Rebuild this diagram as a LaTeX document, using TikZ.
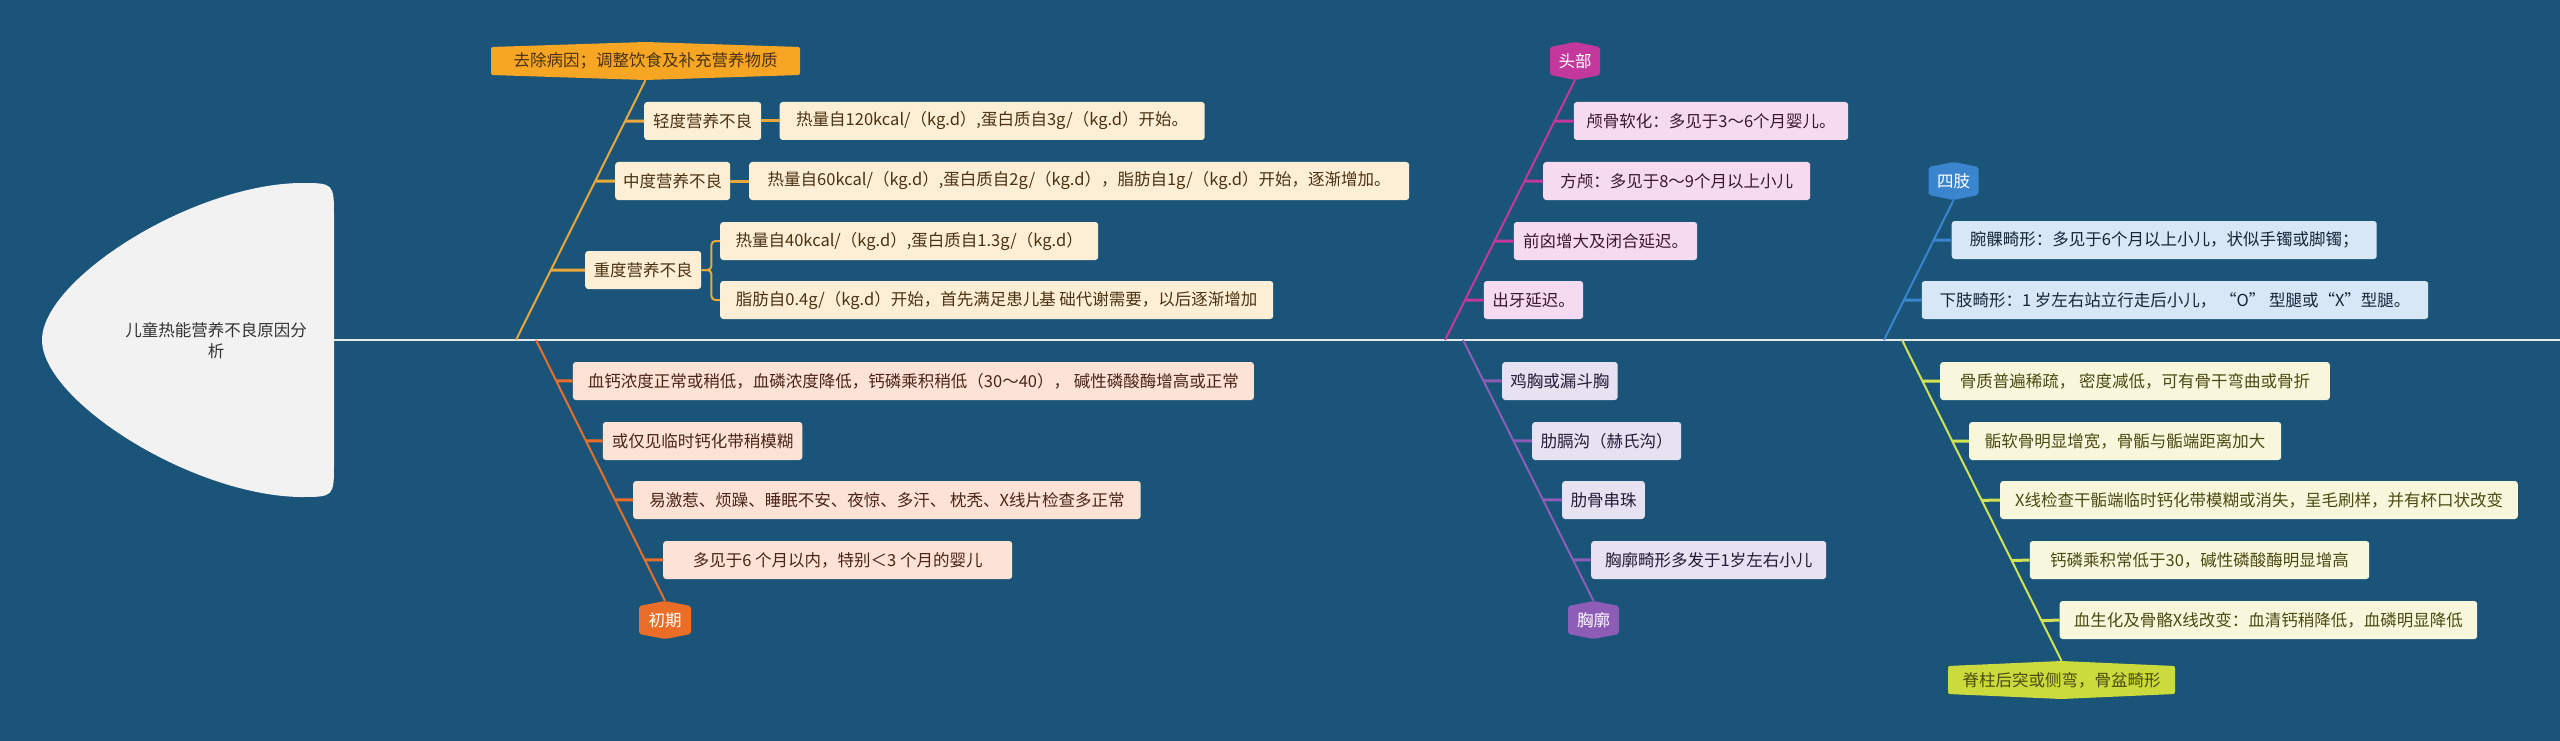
\documentclass[tikz,border=0pt]{standalone}
\usepackage{fontspec}
\setmainfont{Noto Sans CJK SC}
\usepackage{tikz}
\usetikzlibrary{calc}
\definecolor{sea}{HTML}{1A5479}
\definecolor{spinecol}{HTML}{E4E9EE}
\definecolor{headfill}{HTML}{F2F2F2}
\definecolor{gold}{HTML}{EBA83A}
\definecolor{goldbox}{HTML}{FDEFD6}
\definecolor{goldtxt}{HTML}{4A3212}
\definecolor{goldlbl}{HTML}{F6A623}
\definecolor{rust}{HTML}{EA6E28}
\definecolor{rustbox}{HTML}{FDE3D5}
\definecolor{rusttxt}{HTML}{4A2418}
\definecolor{plum}{HTML}{C2389C}
\definecolor{plumbox}{HTML}{F6DAEF}
\definecolor{plumtxt}{HTML}{3A1830}
\definecolor{lilac}{HTML}{8C5CB6}
\definecolor{lilacbox}{HTML}{E7E2F1}
\definecolor{lilactxt}{HTML}{221A36}
\definecolor{sky}{HTML}{3A85CE}
\definecolor{skybox}{HTML}{D7E7F5}
\definecolor{skytxt}{HTML}{13263A}
\definecolor{lime}{HTML}{D2E253}
\definecolor{limebox}{HTML}{F8F7DC}
\definecolor{limetxt}{HTML}{4B4A12}
\definecolor{limelbl}{HTML}{CBDB3C}
\newcommand\leaffont{\fontsize{16.5}{21}\selectfont}
\tikzset{
  leaf/.style={rounded corners=3pt,minimum height=38,inner xsep=8,inner ysep=0,anchor=west},
  bone/.style={line width=2},
  twig/.style={line width=3}
}

\begin{document}
\begin{tikzpicture}[x=1pt,y=-1pt,font=\leaffont]
  \fill[sea] (0,0) rectangle (2560,741);
  \useasboundingbox (0,0) rectangle (2560,741);
  \fill[headfill] (42,340) .. controls (42,280) and (190,185) .. (300,183)
    .. controls (334,183) and (334,183) .. (334,217) -- (334,463)
    .. controls (334,497) and (334,497) .. (300,497)
    .. controls (190,495) and (42,400) .. (42,340);
  \node[align=center,text=black!80] (head) at (216,341) {儿童热能营养不良原因分\\析};
  \coordinate (neck) at (334,340);
  \coordinate (tail) at (2560,340);
  \draw[spinecol,line width=2.5] (neck) -- (tail);
  \foreach \nm/\x/\y/\w/\fc/\tc/\txt in {
    cure/645.5/61/309/goldlbl/goldtxt/去除病因；调整饮食及补充营养物质,
    skull/1575/61/50/plum/white/头部,
    limb/1953.5/181/50/sky/white/四肢,
    early/665/620/52/rust/white/初期,
    chest/1593.5/620/51/lilac/white/胸廓,
    spinal/2061.5/680/227/limelbl/limetxt/脊柱后突或侧弯，骨盆畸形}{
    \fill[\fc,rounded corners=2pt] (\x-\w/2,\y-14) -- (\x,\y-19) -- (\x+\w/2,\y-14)
      -- (\x+\w/2,\y+14) -- (\x,\y+19) -- (\x-\w/2,\y+14) -- cycle;
    \node[text=\tc,minimum width=\w,minimum height=38,inner sep=0] (\nm) at (\x,\y) {\txt};
  }
  \coordinate (s1) at (516,340);
  \coordinate (s2) at (536,340);
  \coordinate (s3) at (1445,340);
  \coordinate (s4) at (1463,340);
  \coordinate (s5) at (1884,340);
  \coordinate (s6) at (1902,340);
  \draw[bone,gold] (s1) -- (cure.south);
  \draw[bone,rust] (s2) -- (early.north);
  \draw[bone,plum] (s3) -- (skull.south);
  \draw[bone,lilac] (s4) -- (chest.north);
  \draw[bone,sky] (s5) -- (limb.south);
  \draw[bone,lime] (s6) -- (spinal.north);
  \foreach \y/\x/\w/\txt [count=\i] in {121/644/117/轻度营养不良,
    181/615/115/中度营养不良, 270/585/116/重度营养不良}{
    \node[leaf,fill=goldbox,text=goldtxt,minimum width=\w] (g\i) at (\x,\y) {\txt};
    \draw[twig,gold] ($(s1)!{(340-\y)/260}!(cure.south)$) -- (g\i.west);
  }
  \node[leaf,fill=goldbox,text=goldtxt,minimum width=425] (g1d) at (779.5,121)
    {热量自120kcal/（kg.d）,蛋白质自3g/（kg.d）开始。};
  \node[leaf,fill=goldbox,text=goldtxt,minimum width=660] (g2d) at (749,181)
    {热量自60kcal/（kg.d）,蛋白质自2g/（kg.d），脂肪自1g/（kg.d）开始，逐渐增加。};
  \node[leaf,fill=goldbox,text=goldtxt,minimum width=378] (g3a) at (720,241)
    {热量自40kcal/（kg.d）,蛋白质自1.3g/（kg.d）};
  \node[leaf,fill=goldbox,text=goldtxt,minimum width=553] (g3b) at (720,300)
    {脂肪自0.4g/（kg.d）开始，首先满足患儿基 础代谢需要，以后逐渐增加};
  \draw[twig,gold] (g1.east) -- (g1d.west);
  \draw[twig,gold] (g2.east) -- (g2d.west);
  \draw[bone,gold,rounded corners=4] (g3.east) -- ++(10,0) |- (g3a.west);
  \draw[bone,gold,rounded corners=4] (g3.east) -- ++(10,0) |- (g3b.west);
  \foreach \y/\x/\w/\txt [count=\i] in {
    381/572.7/681/{血钙浓度正常或稍低，血磷浓度降低，钙磷乘积稍低（30～40）， 碱性磷酸酶增高或正常},
    441/602.6/199.5/{或仅见临时钙化带稍模糊},
    500/633/507.5/{易激惹、烦躁、睡眠不安、夜惊、多汗、 枕秃、X线片检查多正常},
    560/663/349/{多见于6 个月以内，特别＜3 个月的婴儿}}{
    \node[leaf,fill=rustbox,text=rusttxt,minimum width=\w] (r\i) at (\x,\y) {\txt};
    \draw[twig,rust] ($(s2)!{(\y-340)/261}!(early.north)$) -- (r\i.west);
  }
  \foreach \y/\x/\w/\txt [count=\i] in {
    121/1573.6/274.4/{颅骨软化：多见于3～6个月婴儿。},
    181/1543/267/{方颅：多见于8～9个月以上小儿},
    241/1513.6/183.4/{前囟增大及闭合延迟。},
    300/1483.6/99.4/{出牙延迟。}}{
    \node[leaf,fill=plumbox,text=plumtxt,minimum width=\w] (p\i) at (\x,\y) {\txt};
    \draw[twig,plum] ($(s3)!{(340-\y)/260}!(skull.south)$) -- (p\i.west);
  }
  \foreach \y/\x/\w/\txt [count=\i] in {
    381/1502/115.5/{鸡胸或漏斗胸},
    441/1532/149/{肋膈沟（赫氏沟）},
    500/1562/82.6/{肋骨串珠},
    560/1591/235/{胸廓畸形多发于1岁左右小儿}}{
    \node[leaf,fill=lilacbox,text=lilactxt,minimum width=\w] (c\i) at (\x,\y) {\txt};
    \draw[twig,lilac] ($(s4)!{(\y-340)/261}!(chest.north)$) -- (c\i.west);
  }
  \foreach \y/\x/\w/\txt [count=\i] in {
    240/1951.5/425/{腕髁畸形：多见于6个月以上小儿，状似手镯或脚镯；},
    300/1921.6/506.4/{下肢畸形：1 岁左右站立行走后小儿， “O” 型腿或“X”型腿。}}{
    \node[leaf,fill=skybox,text=skytxt,minimum width=\w] (k\i) at (\x,\y) {\txt};
    \draw[twig,sky] ($(s5)!{(340-\y)/140}!(limb.south)$) -- (k\i.west);
  }
  \foreach \y/\x/\w/\txt [count=\i] in {
    381/1940/389.6/{骨质普遍稀疏， 密度减低，可有骨干弯曲或骨折},
    441/1969/312/{骺软骨明显增宽，骨骺与骺端距离加大},
    500/2000/517.6/{X线检查干骺端临时钙化带模糊或消失，呈毛刷样，并有杯口状改变},
    560/2029.6/339.4/{钙磷乘积常低于30，碱性磷酸酶明显增高},
    620/2059.5/417.5/{血生化及骨骼X线改变：血清钙稍降低，血磷明显降低}}{
    \node[leaf,fill=limebox,text=limetxt,minimum width=\w] (m\i) at (\x,\y) {\txt};
    \draw[twig,lime] ($(s6)!{(\y-340)/320}!(spinal.north)$) -- (m\i.west);
  }
\end{tikzpicture}
\end{document}
